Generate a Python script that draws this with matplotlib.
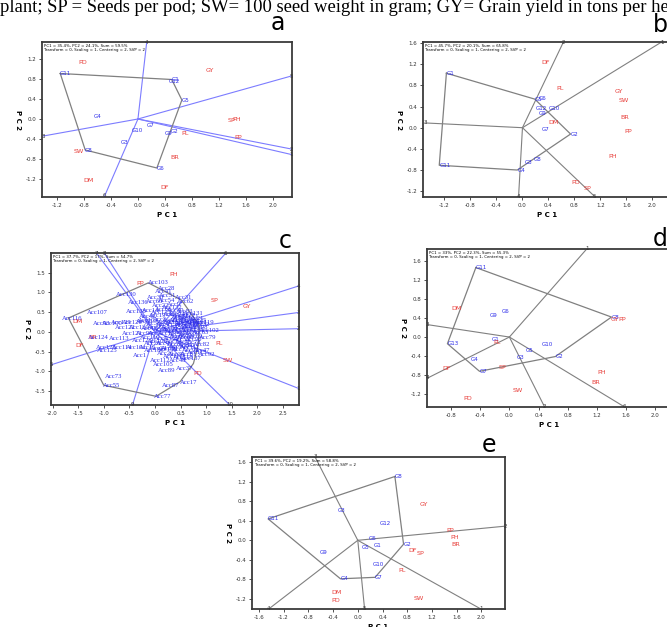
import matplotlib
matplotlib.use("Agg")
import matplotlib.pyplot as plt

W, H = 667, 627
RED = "#e8403c"
BLUE = "#2b2bea"
RAY_BLUE = "#7c7cff"
GREY = "#808080"

header = "plant; SP = Seeds per pod; SW= 100 seed weight in gram; GY= Grain yield in tons per hectare"

# ---- panel a
a_info = "PC1 = 35.4%, PC2 = 24.1%, Sum = 59.5%"
a_traits = ["PD", "GY", "PH", "SP", "PL", "PP", "SW", "BR", "DM", "DF"]
a_trait_x = [-0.81, 1.07, 1.46, 1.38, 0.70, 1.48, -0.87, 0.55, -0.73, 0.39]
a_trait_y = [1.13, 0.97, 0.00, -0.03, -0.28, -0.37, -0.64, -0.77, -1.22, -1.36]
a_genos = ["G11", "G1", "G12", "G5", "G4", "G7", "G10", "G2", "G9", "G3", "G8", "G6"]
a_geno_x = [-1.15, 0.50, 0.46, 0.65, -0.65, 0.13, -0.09, 0.49, 0.40, -0.26, -0.78, 0.28]
a_geno_y = [0.91, 0.79, 0.75, 0.38, 0.05, -0.12, -0.23, -0.25, -0.29, -0.46, -0.62, -0.98]
a_hull = ["G11", "G1", "G5", "G6", "G8"]
a_rays = ["4", "5", "2", "1", "3", "6"]
a_ray_x = [0.13, 2.27, 2.27, 2.27, -1.40, -0.49]
a_ray_y = [1.54, 0.86, -0.60, -0.71, -0.34, -1.53]

# ---- panel b
b_info = "PC1 = 45.7%, PC2 = 20.1%, Sum = 65.8%"
b_traits = ["DF", "PL", "GY", "SW", "DM", "BR", "PP", "PH", "PD", "SP"]
b_trait_x = [0.35, 0.58, 1.48, 1.56, 0.48, 1.57, 1.62, 1.39, 0.82, 1.00]
b_trait_y = [1.24, 0.75, 0.68, 0.51, 0.10, 0.19, -0.08, -0.55, -1.03, -1.14]
b_genos = ["G1", "G5", "G6", "G12", "G10", "G9", "G7", "G2", "G8", "G3", "G4", "G11"]
b_geno_x = [-1.17, 0.19, 0.25, 0.20, 0.40, 0.25, 0.29, 0.74, 0.18, 0.04, -0.08, -1.28]
b_geno_y = [1.03, 0.54, 0.56, 0.36, 0.37, 0.26, -0.04, -0.12, -0.60, -0.66, -0.80, -0.71]
b_hull = ["G1", "G5", "G2", "G4", "G11"]
b_rays = ["2", "1", "3", "4", "5"]
b_ray_x = [0.63, 2.14, -1.50, -0.06, 1.11]
b_ray_y = [1.62, 1.62, 0.09, -1.30, -1.30]

# ---- panel c
c_info = "PC1 = 37.7%, PC2 = 17%, Sum = 54.7%"
c_traits = ["PH", "PP", "SP", "GY", "DM", "BR", "DF", "PL", "SW", "PD"]
c_trait_x = [0.36, -0.29, 1.17, 1.79, -1.51, -1.22, -1.47, 1.25, 1.42, 0.84]
c_trait_y = [1.45, 1.22, 0.80, 0.63, 0.25, -0.14, -0.34, -0.29, -0.73, -1.05]
c_acc = [
    ("Acc103", 0.06, 1.25), ("Acc28", 0.22, 1.10), ("Acc41", 0.16, 1.02), ("Acc130", -0.56, 0.94),
    ("Acc36", 0.02, 0.88), ("Acc51", 0.24, 0.93), ("Acc31", 0.56, 0.87), ("Acc62", 0.60, 0.77),
    ("Acc136", -0.32, 0.74), ("Acc60", 0.00, 0.76), ("Acc54", 0.22, 0.79), ("Acc9", 0.38, 0.70),
    ("Acc22", 0.10, 0.66), ("Acc107", -1.12, 0.49), ("Acc116", -1.62, 0.35), ("Acc138", -0.36, 0.52),
    ("Acc14", -0.08, 0.55), ("Acc66", 0.16, 0.57), ("Acc40", 0.40, 0.55), ("Acc83", 0.58, 0.52),
    ("Acc126", -0.44, 0.24), ("Acc100", -0.84, 0.22), ("Acc93", -1.04, 0.20), ("Acc129", -0.66, 0.23),
    ("Acc42", -0.15, 0.38), ("Acc19", 0.05, 0.42), ("Acc8", 0.30, 0.45), ("Acc33", 0.50, 0.40),
    ("Acc71", 0.70, 0.38), ("Acc25", 0.85, 0.30), ("Acc2", 0.10, 0.32), ("Acc11", 0.30, 0.30),
    ("Acc57", 0.45, 0.28), ("Acc64", 0.62, 0.27), ("Acc46", 0.78, 0.22), ("Acc119", 0.97, 0.23),
    ("Acc35", -0.20, 0.25), ("Acc58", -0.05, 0.20), ("Acc4", 0.15, 0.18), ("Acc18", 0.35, 0.18),
    ("Acc67", 0.55, 0.16), ("Acc70", 0.70, 0.13), ("Acc98", 0.88, 0.12), ("Acc120", -0.30, 0.10),
    ("Acc12", -0.10, 0.08), ("Acc5", 0.10, 0.06), ("Acc27", 0.30, 0.07), ("Acc49", 0.50, 0.05),
    ("Acc85", 0.66, 0.03), ("Acc102", 1.05, 0.04), ("Acc96", -0.20, -0.03), ("Acc3", 0.00, -0.05),
    ("Acc16", 0.22, -0.03), ("Acc38", 0.42, -0.06), ("Acc76", 0.62, -0.08), ("Acc79", 1.02, -0.13),
    ("Acc124", -1.10, -0.14), ("Acc113", -0.70, -0.18), ("Acc110", -0.10, -0.15), ("Acc7", 0.12, -0.17),
    ("Acc29", 0.32, -0.16), ("Acc53", 0.52, -0.19), ("Acc90", 0.75, -0.20), ("Acc128", -0.95, -0.40),
    ("Acc114", -0.63, -0.40), ("Acc101", -0.37, -0.40), ("Acc125", -0.93, -0.48), ("Acc20", -0.05, -0.30),
    ("Acc44", 0.18, -0.30), ("Acc61", 0.40, -0.32), ("Acc80", 0.62, -0.34), ("Acc15", -0.15, -0.40),
    ("Acc34", 0.08, -0.43), ("Acc50", 0.28, -0.42), ("Acc72", 0.50, -0.45), ("Acc47", 0.92, -0.46),
    ("Acc95", 0.70, -0.48), ("Acc1", -0.29, -0.59), ("Acc26", 0.20, -0.55), ("Acc39", 0.42, -0.58),
    ("Acc81", 0.65, -0.56), ("Acc92", 1.00, -0.58), ("Acc112", 0.10, -0.72), ("Acc105", 0.17, -0.83),
    ("Acc48", 0.45, -0.72), ("Acc89", 0.23, -0.97), ("Acc37", 0.58, -0.93), ("Acc73", -0.81, -1.14),
    ("Acc55", -0.84, -1.36), ("Acc87", 0.30, -1.35), ("Acc17", 0.66, -1.28), ("Acc77", 0.15, -1.64),
    ("Acc6", 0.45, 0.36), ("Acc10", 0.62, 0.33), ("Acc21", 0.80, 0.35), ("Acc23", 0.38, 0.24),
    ("Acc24", 0.55, 0.22), ("Acc30", 0.72, 0.26), ("Acc32", 0.90, 0.18), ("Acc43", 0.63, 0.10),
    ("Acc45", 0.80, 0.07), ("Acc52", 0.36, 0.01), ("Acc56", 0.54, -0.01), ("Acc59", 0.72, -0.03),
    ("Acc63", 0.88, -0.02), ("Acc65", 0.44, -0.11), ("Acc68", 0.60, -0.13), ("Acc69", 0.78, -0.12),
    ("Acc74", 0.36, -0.24), ("Acc75", 0.56, -0.26), ("Acc78", 0.74, -0.27), ("Acc82", 0.90, -0.32),
    ("Acc84", 0.28, 0.12), ("Acc86", 0.50, 0.30), ("Acc88", 0.68, 0.18), ("Acc91", 0.85, 0.24),
    ("Acc94", 0.42, 0.44), ("Acc97", 0.20, 0.24), ("Acc99", 0.02, 0.12), ("Acc104", -0.12, 0.30),
    ("Acc106", 0.05, -0.25), ("Acc108", 0.25, -0.45), ("Acc109", 0.47, -0.38), ("Acc111", 0.68, -0.40),
    ("Acc115", 0.82, -0.52), ("Acc117", 0.36, -0.63), ("Acc118", 0.55, -0.66), ("Acc121", -0.45, -0.05),
    ("Acc122", -0.58, 0.10), ("Acc123", -0.25, -0.22), ("Acc127", 0.60, 0.42), ("Acc131", 0.75, 0.47),
    ("Acc132", 0.34, 0.62), ("Acc133", 0.12, 0.48), ("Acc135", -0.02, -0.48), ("Acc137", 0.70, -0.68),
]
c_hull_x = [-1.69, -0.13, 0.52, 0.86, 0.85, 0.75, 0.49, 0.02, -1.00]
c_hull_y = [0.35, 1.24, 0.80, 0.17, -0.29, -0.80, -1.26, -1.63, -1.35]
c_rays = ["7", "8", "6", "4", "3", "2", "1", "10", "9", "5"]
c_ray_x = [-1.14, -0.99, 1.38, 2.80, 2.80, 2.80, 2.80, 1.46, -0.44, -2.02]
c_ray_y = [1.99, 1.99, 1.99, 1.16, 0.49, 0.08, -1.43, -1.85, -1.85, -0.83]

# ---- panel d
d_info = "PC1 = 33%, PC2 = 22.3%, Sum = 55.3%"
d_traits = ["DM", "PL", "GY", "PP", "DF", "SP", "PH", "BR", "SW", "PD"]
d_trait_x = [-0.72, -0.17, 1.45, 1.55, -0.86, -0.10, 1.27, 1.19, 0.11, -0.57]
d_trait_y = [0.59, -0.11, 0.36, 0.36, -0.67, -0.64, -0.74, -0.95, -1.12, -1.30]
d_genos = ["G11", "G9", "G6", "G8", "G13", "G1", "G4", "G7", "G3", "G5", "G10", "G2"]
d_geno_x = [-0.46, -0.27, -0.11, 1.40, -0.85, -0.24, -0.53, -0.41, 0.10, 0.23, 0.45, 0.63]
d_geno_y = [1.46, 0.45, 0.54, 0.42, -0.14, -0.06, -0.48, -0.72, -0.43, -0.29, -0.15, -0.41]
d_hull = ["G11", "G8", "G2", "G7", "G13"]
d_rays = ["1", "3", "4", "2", "6"]
d_ray_x = [1.06, -1.12, -1.12, 0.48, 1.57]
d_ray_y = [1.85, 0.26, -0.86, -1.46, -1.46]

# ---- panel e
e_info = "PC1 = 39.6%, PC2 = 19.2%, Sum = 58.8%"
e_traits = ["GY", "PP", "PH", "BR", "DF", "SP", "PL", "DM", "PD", "SW"]
e_trait_x = [1.07, 1.50, 1.57, 1.59, 0.88, 1.02, 0.72, -0.35, -0.36, 0.99]
e_trait_y = [0.74, 0.21, 0.06, -0.09, -0.21, -0.28, -0.61, -1.08, -1.24, -1.20]
e_genos = ["G8", "G11", "G3", "G12", "G6", "G1", "G5", "G9", "G2", "G10", "G4", "G7"]
e_geno_x = [0.60, -1.45, -0.32, 0.36, 0.17, 0.26, 0.07, -0.61, 0.74, 0.25, -0.28, 0.28]
e_geno_y = [1.31, 0.44, 0.62, 0.35, 0.04, -0.11, -0.15, -0.25, -0.08, -0.49, -0.79, -0.76]
e_hull = ["G8", "G2", "G7", "G4", "G11"]
e_rays = ["3", "2", "4", "5", "1"]
e_ray_x = [-0.69, 2.38, -1.44, 0.11, 1.99]
e_ray_y = [1.71, 0.29, -1.41, -1.41, -1.41]

SUB = "Transform = 0, Scaling = 1, Centering = 2, SVP = 2"

fig = plt.figure(figsize=(W / 100, H / 100), dpi=100)
fig.patch.set_facecolor("white")


def make_axes(left, top, right, bottom, xlim, ylim, xticks, yticks):
    ax = fig.add_axes([left / W, 1 - bottom / H, (right - left) / W, (bottom - top) / H])
    ax.set_xlim(xlim)
    ax.set_ylim(ylim)
    ax.set_xticks(xticks)
    ax.set_yticks(yticks)
    ax.set_xticklabels([f"{t:.1f}" for t in xticks])
    ax.set_yticklabels([f"{t:.1f}" for t in yticks])
    for s in ax.spines.values():
        s.set_color("#3a3a3a")
        s.set_linewidth(1.3)
    ax.tick_params(direction="out", length=2.5, width=0.6, labelsize=4, pad=1.5,
                   colors="#333333")
    ax.set_xlabel("P C 1", fontsize=5, fontweight="bold", labelpad=3)
    ax.set_ylabel("P C 2", fontsize=5, fontweight="bold", rotation=270, labelpad=8)
    return ax


def draw(ax, info, rays, rx, ry, ray_col, traits, tx, ty, genos=None, gx=None, gy=None,
         hull=None, hull_x=None, hull_y=None):
    for lab, x, y in zip(rays, rx, ry):
        ax.plot([0, x], [0, y], color=ray_col, lw=0.8)
        ax.text(x, y, lab, fontsize=4, color="#333333", ha="center", va="center")
    if hull is not None:
        pos = dict(zip(genos, zip(gx, gy)))
        hx = [pos[g][0] for g in hull] + [pos[hull[0]][0]]
        hy = [pos[g][1] for g in hull] + [pos[hull[0]][1]]
        ax.plot(hx, hy, color=GREY, lw=0.9)
    if hull_x is not None:
        ax.plot(hull_x + hull_x[:1], hull_y + hull_y[:1], color=GREY, lw=0.9)
    if genos is not None:
        for g, x, y in zip(genos, gx, gy):
            ax.text(x, y, g, fontsize=4, color=BLUE, ha="left", va="center")
    for t, x, y in zip(traits, tx, ty):
        ax.text(x, y, t, fontsize=4.6, color=RED, ha="center", va="center")
    ax.text(0.01, 0.99, info + "\n" + SUB, transform=ax.transAxes, fontsize=2.8,
            va="top", ha="left", linespacing=1.3)


# a
ax = make_axes(42, 42, 292, 197, (-1.42, 2.28), (-1.56, 1.54),
               [-1.2, -0.8, -0.4, 0.0, 0.4, 0.8, 1.2, 1.6, 2.0], [-1.2, -0.8, -0.4, 0.0, 0.4, 0.8, 1.2])
draw(ax, a_info, a_rays, a_ray_x, a_ray_y, RAY_BLUE, a_traits, a_trait_x, a_trait_y,
     a_genos, a_geno_x, a_geno_y, hull=a_hull)

# b
ax = make_axes(423, 42, 672, 197, (-1.53, 2.30), (-1.31, 1.62),
               [-1.2, -0.8, -0.4, 0.0, 0.4, 0.8, 1.2, 1.6, 2.0], [-1.2, -0.8, -0.4, 0.0, 0.4, 0.8, 1.2, 1.6])
draw(ax, b_info, b_rays, b_ray_x, b_ray_y, GREY, b_traits, b_trait_x, b_trait_y,
     b_genos, b_geno_x, b_geno_y, hull=b_hull)

# c
ax = make_axes(51, 253, 299, 405, (-2.03, 2.81), (-1.85, 1.995),
               [-2.0, -1.5, -1.0, -0.5, 0.0, 0.5, 1.0, 1.5, 2.0, 2.5], [-1.5, -1.0, -0.5, 0.0, 0.5, 1.0, 1.5])
draw(ax, c_info, c_rays, c_ray_x, c_ray_y, RAY_BLUE, c_traits, c_trait_x, c_trait_y,
     hull_x=c_hull_x, hull_y=c_hull_y)
for name, x, y in c_acc:
    ax.text(x, y, name, fontsize=4.8, color=BLUE, family="Liberation Serif",
            ha="center", va="center")

# d
ax = make_axes(427, 249, 672, 407, (-1.13, 2.23), (-1.47, 1.85),
               [-0.8, -0.4, 0.0, 0.4, 0.8, 1.2, 1.6, 2.0], [-1.2, -0.8, -0.4, 0.0, 0.4, 0.8, 1.2, 1.6])
draw(ax, d_info, d_rays, d_ray_x, d_ray_y, GREY, d_traits, d_trait_x, d_trait_y,
     d_genos, d_geno_x, d_geno_y, hull=d_hull)

# e
ax = make_axes(252, 457, 505, 609, (-1.71, 2.38), (-1.41, 1.71),
               [-1.6, -1.2, -0.8, -0.4, 0.0, 0.4, 0.8, 1.2, 1.6, 2.0], [-1.2, -0.8, -0.4, 0.0, 0.4, 0.8, 1.2, 1.6])
draw(ax, e_info, e_rays, e_ray_x, e_ray_y, GREY, e_traits, e_trait_x, e_trait_y,
     e_genos, e_geno_x, e_geno_y, hull=e_hull)

# panel letters and caption fragment
for letter, px, py in [("a", 278, 23), ("b", 660, 25), ("c", 285, 241), ("d", 660, 239), ("e", 489, 445)]:
    fig.text(px / W, 1 - py / H, letter, fontsize=17, ha="center", va="center")
fig.text(0, 1 - 12 / H, header, family="Liberation Serif", fontsize=13.4, va="baseline", ha="left")

fig.savefig("out.png", dpi=100)
